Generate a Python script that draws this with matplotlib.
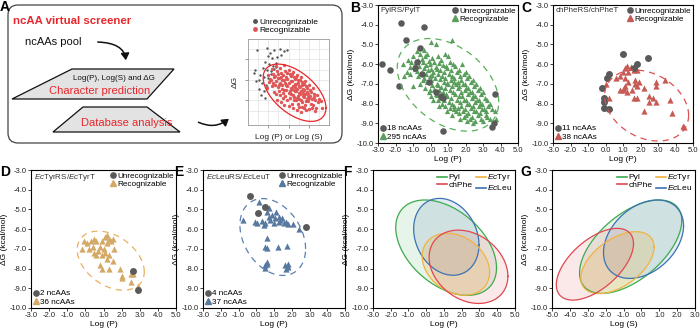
import numpy as np
import matplotlib.pyplot as plt
from matplotlib.patches import FancyBboxPatch, Polygon, FancyArrowPatch
from matplotlib.lines import Line2D
from matplotlib.ticker import FormatStrFormatter

plt.rcParams['font.family'] = ['Liberation Sans', 'DejaVu Sans']
plt.rcParams['mathtext.fontset'] = 'custom'
plt.rcParams['mathtext.rm'] = 'Liberation Sans'
plt.rcParams['mathtext.it'] = 'Liberation Sans:italic'
plt.rcParams['axes.unicode_minus'] = False

# ---- data ----
x_ticks_p = [-3, -2, -1, 0, 1, 2, 3, 4, 5]
x_ticks_s = [-5, -4, -3, -2, -1, 0, 1, 2, 3]
y_ticks = [-10, -9, -8, -7, -6, -5, -4, -3]

pyl_unrec = [(-1.7, -3.9), (-0.4, -4.1), (-1.4, -4.8), (-0.6, -5.2), (-2.8, -6.0),
             (-2.3, -6.3), (-0.8, -5.9), (-0.9, -6.2), (-0.5, -6.5), (-1.8, -7.1),
             (-0.1, -6.9), (0.3, -7.4), (0.6, -7.6), (0.7, -7.7), (0.7, -9.4),
             (3.7, -7.5), (3.6, -9.0), (3.5, -9.2)]
pyl_rec = [
    (-1.6, -6.0), (-1.5, -6.6),
    (-1.3, -5.8), (-1.2, -6.15), (-1.35, -6.4),
    (-1.0, -5.6), (-1.1, -5.9), (-0.9, -6.25), (-1.15, -6.5), (-1.0, -7.1),
    (-0.8, -5.35), (-0.7, -5.8), (-0.9, -6.0), (-0.75, -6.35), (-0.7, -6.6),
    (-0.6, -5.5), (-0.5, -5.75), (-0.65, -6.1), (-0.55, -6.45), (-0.45, -6.8), (-0.6, -7.0),
    (-0.4, -5.3), (-0.3, -5.6), (-0.45, -5.9), (-0.35, -6.2), (-0.25, -6.5), (-0.4, -6.7), (-0.3, -7.2),
    (-0.2, -5.5), (-0.1, -5.85), (-0.25, -6.05), (-0.15, -6.3), (-0.05, -6.6), (-0.2, -6.9), (-0.1, -7.4),
    (0.0, -4.9), (0.1, -5.7), (-0.05, -6.0), (0.05, -6.25), (0.1, -6.55), (0.0, -6.8), (0.1, -7.05), (-0.05, -7.3), (0.0, -7.6),
    (0.3, -5.0), (0.2, -5.9), (0.3, -6.15), (0.15, -6.4), (0.25, -6.7), (0.35, -7.0), (0.2, -7.25), (0.3, -7.5), (0.15, -7.8),
    (0.4, -5.6), (0.5, -5.95), (0.35, -6.25), (0.45, -6.5), (0.55, -6.75), (0.4, -7.05), (0.5, -7.3), (0.35, -7.55), (0.45, -7.8), (0.5, -8.1),
    (0.6, -5.8), (0.7, -6.05), (0.55, -6.3), (0.65, -6.6), (0.75, -6.9), (0.6, -7.15), (0.7, -7.4), (0.55, -7.7), (0.65, -8.0),
    (0.8, -5.5), (0.9, -6.1), (0.75, -6.4), (0.85, -6.7), (0.95, -6.95), (0.8, -7.2), (0.9, -7.5), (0.75, -7.8), (0.85, -8.1), (0.95, -8.4),
    (1.0, -5.6), (1.1, -5.9), (0.95, -6.2), (1.05, -6.5), (1.15, -6.8), (1.0, -7.0), (1.1, -7.3), (0.95, -7.6), (1.05, -7.9), (1.1, -8.2),
    (1.2, -4.8), (1.3, -6.0), (1.15, -6.3), (1.25, -6.6), (1.35, -6.9), (1.2, -7.1), (1.3, -7.4), (1.15, -7.7), (1.25, -8.0), (1.35, -8.3), (1.2, -8.6),
    (1.4, -6.1), (1.5, -6.4), (1.35, -6.7), (1.45, -7.0), (1.55, -7.2), (1.4, -7.5), (1.5, -7.8), (1.35, -8.1), (1.45, -8.4),
    (1.6, -6.3), (1.7, -6.6), (1.55, -6.9), (1.65, -7.1), (1.75, -7.4), (1.6, -7.6), (1.7, -7.9), (1.55, -8.2), (1.65, -8.5), (1.7, -8.8),
    (1.8, -6.0), (1.9, -6.5), (1.75, -6.8), (1.85, -7.0), (1.95, -7.3), (1.8, -7.6), (1.9, -7.8), (1.75, -8.1), (1.85, -8.4), (1.9, -8.7),
    (2.0, -6.4), (2.1, -6.7), (1.95, -7.0), (2.05, -7.2), (2.15, -7.5), (2.0, -7.8), (2.1, -8.0), (1.95, -8.3), (2.05, -8.6), (2.1, -8.9),
    (2.2, -6.6), (2.3, -6.9), (2.15, -7.2), (2.25, -7.4), (2.35, -7.7), (2.2, -8.0), (2.3, -8.2), (2.15, -8.5), (2.25, -8.8),
    (2.4, -6.8), (2.5, -7.1), (2.35, -7.4), (2.45, -7.6), (2.55, -7.9), (2.4, -8.1), (2.5, -8.4), (2.35, -8.7), (2.45, -9.0),
    (2.6, -7.0), (2.7, -7.3), (2.55, -7.6), (2.65, -7.8), (2.75, -8.1), (2.6, -8.4), (2.7, -8.6), (2.55, -8.9),
    (2.8, -7.2), (2.9, -7.5), (2.75, -7.8), (2.85, -8.0), (2.95, -8.3), (2.8, -8.5), (2.9, -8.8),
    (3.0, -7.4), (3.1, -7.7), (2.95, -8.0), (3.05, -8.3), (3.15, -8.6), (3.0, -8.9),
    (3.2, -7.8), (3.3, -8.1), (3.15, -8.4), (3.25, -8.7),
    (3.4, -8.0), (3.5, -8.3), (3.4, -8.8),
    (3.7, -8.4), (3.75, -8.8),
]

phe_unrec = [(1.0, -5.5), (2.4, -5.7), (1.8, -6.0), (1.6, -6.2), (0.2, -6.5), (0.1, -6.7),
             (-0.2, -7.2), (-0.1, -7.7), (-0.1, -7.9), (-0.1, -8.2), (0.2, -8.3)]
phe_rec = [(1.1, -6.2), (1.2, -6.1), (1.45, -6.15), (1.6, -6.3), (1.8, -6.3), (1.0, -6.4), (1.3, -6.4),
           (0.6, -6.7), (0.85, -6.6), (1.1, -6.7), (1.7, -6.8), (1.9, -6.9), (3.4, -6.8), (2.9, -6.9), (1.3, -6.9),
           (0.0, -7.0), (1.0, -7.3), (0.85, -7.3), (1.1, -7.1), (1.2, -7.4), (1.5, -7.3), (1.8, -7.1),
           (2.2, -7.2), (2.9, -7.1), (1.7, -7.0), (1.05, -7.2),
           (0.2, -7.7), (1.6, -7.7), (1.8, -7.7), (2.5, -7.6), (2.7, -7.7), (2.5, -7.9), (2.9, -7.9), (3.7, -7.8),
           (2.2, -8.4), (3.8, -8.5), (4.5, -9.2), (4.45, -9.15)]

tyr_unrec = [(2.6, -8.1), (2.9, -9.1)]
tyr_rec = [(-0.2, -7.0), (-0.1, -6.6), (0.1, -6.7), (0.3, -6.6), (0.5, -6.5), (0.6, -6.6), (0.9, -6.6),
           (1.1, -6.4), (1.2, -6.3), (1.3, -6.5), (1.4, -6.6), (1.2, -6.7), (1.5, -6.5), (0.2, -7.0),
           (0.4, -6.9), (0.5, -7.2), (0.7, -7.1), (0.8, -6.9), (1.0, -7.0), (1.1, -7.2), (0.6, -7.3),
           (0.9, -7.3), (1.3, -7.3), (1.6, -7.0), (1.2, -7.5), (0.8, -7.8), (0.9, -8.0), (1.3, -8.0),
           (1.9, -8.0), (2.0, -8.4), (2.0, -8.5), (2.5, -8.3), (2.6, -8.3), (2.5, -8.7), (2.9, -8.9), (1.5, -7.6)]

leu_unrec = [(-0.35, -4.3), (0.5, -4.9), (0.1, -5.2), (2.8, -5.9)]
leu_rec = [(0.15, -4.61), (-0.74, -5.54), (-0.07, -5.62), (0.33, -5.59), (0.48, -5.71), (0.61, -5.11),
           (0.70, -5.37), (0.80, -5.54), (0.89, -5.28), (0.98, -5.71), (1.11, -5.11), (1.26, -5.37),
           (1.35, -5.54), (1.44, -5.45), (1.54, -5.71), (1.67, -5.66), (1.81, -5.76), (2.09, -5.76),
           (2.43, -5.99), (1.26, -5.62), (0.74, -4.95), (0.61, -6.47), (0.52, -6.89), (0.61, -6.98),
           (1.20, -6.89), (1.76, -6.86), (0.61, -7.65), (0.61, -7.79), (0.52, -7.99), (0.52, -7.82),
           (1.63, -7.82), (1.81, -7.91), (1.78, -7.79), (1.67, -8.03), (0.43, -5.79), (0.06, -5.71),
           (1.04, -5.45)]

counts_B = [18, 295]
counts_C = [11, 38]
counts_D = [2, 36]
counts_E = [4, 37]

# ellipses: centre x, centre y, half width, half height, phase (deg)
ell_B = [1.0, -7.05, 2.9, 2.35, 112]
ell_C = [2.35, -8.1, 2.4, 1.8, 106]
ell_D = [1.4, -7.6, 1.85, 1.5, 112]
ell_E = [0.93, -6.4, 1.85, 1.95, 108]
ell_F = {'Pyl': [1.12, -6.94, 2.84, 2.42, 115], 'chPhe': [2.38, -7.91, 2.22, 1.86, 105],
         'EcTyr': [1.67, -7.78, 1.9, 1.57, 105], 'EcLeu': [1.13, -6.39, 1.84, 1.95, 102]}
ell_G = {'Pyl': [-0.6, -6.89, 2.86, 2.37, 56], 'chPhe': [-2.6, -7.78, 2.16, 1.82, 55],
         'EcTyr': [-1.34, -7.7, 2.05, 1.57, 60], 'EcLeu': [0.12, -6.51, 2.24, 1.99, 70]}

# schematic scatter in panel A (arbitrary units)
mini_unrec = [(0.9, 6.9), (1.9, 7.1), (2.2, 6.6), (2.6, 6.9), (3.2, 7.0), (3.6, 6.8), (2.0, 6.3),
              (2.4, 6.1), (2.9, 6.2), (3.3, 6.4), (1.7, 5.8), (2.1, 5.6), (2.5, 5.4), (2.8, 5.7),
              (1.5, 5.2), (1.9, 5.0), (2.3, 4.9), (2.6, 5.1), (0.6, 4.7), (1.2, 4.5), (1.6, 4.3),
              (2.0, 4.2), (0.8, 3.9), (1.4, 3.7), (1.8, 3.5), (1.1, 3.1), (1.6, 2.9), (1.9, 3.3),
              (1.3, 2.5), (1.7, 2.2), (2.3, 4.6), (2.8, 5.3), (3.9, 6.9), (1.1, 4.0), (0.7, 5.0)]
mini_rec = [
    (2.0, 4.5), (2.1, 3.8), (1.9, 3.2), (2.2, 4.1),
    (2.4, 5.1), (2.5, 4.6), (2.3, 4.0), (2.4, 3.4), (2.6, 2.8), (2.5, 3.7),
    (2.8, 5.4), (2.9, 4.9), (2.7, 4.4), (2.8, 3.9), (3.0, 3.3), (2.8, 2.6), (2.9, 2.0), (3.0, 4.2),
    (3.2, 5.2), (3.3, 4.7), (3.1, 4.2), (3.2, 3.7), (3.4, 3.1), (3.2, 2.5), (3.3, 1.8), (3.4, 4.0), (3.1, 2.9),
    (3.6, 5.5), (3.7, 4.9), (3.5, 4.5), (3.6, 4.0), (3.8, 3.5), (3.6, 3.0), (3.7, 2.4), (3.6, 1.6), (3.8, 4.3), (3.5, 2.7),
    (4.0, 5.0), (4.1, 4.6), (3.9, 4.1), (4.0, 3.7), (4.2, 3.2), (4.0, 2.7), (4.1, 2.2), (4.0, 1.5), (4.2, 3.9), (3.9, 3.4), (4.1, 2.9),
    (4.4, 4.8), (4.5, 4.3), (4.3, 3.9), (4.4, 3.4), (4.6, 2.9), (4.4, 2.5), (4.5, 2.0), (4.4, 1.3), (4.6, 3.6), (4.3, 3.1), (4.5, 2.3), (4.6, 4.1),
    (4.8, 4.5), (4.9, 4.0), (4.7, 3.6), (4.8, 3.1), (5.0, 2.7), (4.8, 2.2), (4.9, 1.7), (4.8, 1.1), (5.0, 3.4), (4.7, 2.9), (4.9, 2.4),
    (5.2, 4.3), (5.3, 3.8), (5.1, 3.3), (5.2, 2.9), (5.4, 2.4), (5.2, 2.0), (5.3, 1.4), (5.2, 0.9), (5.4, 3.1), (5.1, 2.6), (5.3, 1.8),
    (5.6, 3.9), (5.7, 3.4), (5.5, 3.0), (5.6, 2.6), (5.8, 2.1), (5.6, 1.6), (5.7, 1.1), (5.8, 2.8), (5.5, 2.3), (5.7, 1.9),
    (6.0, 3.5), (6.1, 3.0), (5.9, 2.6), (6.0, 2.2), (6.2, 1.7), (6.0, 1.2), (6.1, 2.4), (5.9, 1.9),
    (6.4, 3.2), (6.5, 2.6), (6.3, 2.1), (6.4, 1.6), (6.6, 1.0), (6.5, 2.3),
    (6.8, 2.5), (6.9, 1.8), (6.7, 1.3), (7.0, 2.1),
    (7.2, 1.9), (7.3, 1.3),
    (2.6, 4.3), (2.7, 3.5), (3.0, 4.6), (3.3, 4.3), (3.4, 3.5), (3.5, 2.2), (3.8, 3.0), (3.9, 2.0),
    (4.2, 4.4), (4.2, 2.6), (4.3, 1.7), (4.6, 3.3), (4.7, 2.0), (4.9, 3.7), (5.0, 2.1), (5.0, 1.4),
    (5.3, 3.5), (5.4, 2.7), (5.5, 1.3), (5.8, 3.2), (5.9, 2.3), (6.2, 2.8), (6.3, 1.3), (6.6, 2.0),
    (3.9, 4.7), (4.3, 4.6), (4.7, 4.3), (5.1, 4.0), (5.5, 3.6), (3.1, 3.5), (3.7, 3.7), (4.5, 3.0),
]
ell_mini = [4.6, 2.75, 3.1, 2.8, 122]

GRAY = '#5a5a5a'
col_line = {'Pyl': '#3daa4e', 'chPhe': '#e0474f', 'EcTyr': '#f2b240', 'EcLeu': '#3d72b3'}
leg_label = {'Pyl': 'Pyl', 'chPhe': 'chPhe', 'EcTyr': r'$\it{Ec}$Tyr', 'EcLeu': r'$\it{Ec}$Leu'}


def ellipse_pts(p):
    cx, cy, a, b, phi = p
    t = np.linspace(0, 2 * np.pi, 240)
    return cx + a * np.cos(t), cy + b * np.cos(t - np.radians(phi))


def px_rect(l, t, r, b):
    return [l / 700, 1 - b / 331, (r - l) / 700, (b - t) / 331]


def style_axes(ax, xt, xlabel):
    ax.set_xlim(xt[0], xt[-1])
    ax.set_ylim(-10, -3)
    ax.set_xticks(xt)
    ax.set_yticks(y_ticks)
    ax.xaxis.set_major_formatter(FormatStrFormatter('%.1f'))
    ax.yaxis.set_major_formatter(FormatStrFormatter('%.1f'))
    ax.tick_params(labelsize=5.5, length=2, width=0.6, pad=1, colors='#222')
    ax.set_xlabel(xlabel, fontsize=6, labelpad=1)
    ax.set_ylabel('ΔG (kcal/mol)', fontsize=6, labelpad=1)
    for s in ax.spines.values():
        s.set_linewidth(0.8)


def scatter_panel(ax, title, unrec, rec, tri_col, ell, ell_col, counts, s_c, s_t):
    ex, ey = ellipse_pts(ell)
    ax.plot(ex, ey, ls=(0, (5, 4)), color=ell_col, lw=0.9)
    rx, ry = zip(*rec)
    ux, uy = zip(*unrec)
    ax.scatter(rx, ry, marker='^', s=s_t, c=tri_col, lw=0)
    ax.scatter(ux, uy, marker='o', s=s_c, c=GRAY, lw=0)
    ax.text(0.02, 0.985, title, transform=ax.transAxes, va='top', ha='left',
            fontsize=5.8, color='#333')
    h1 = Line2D([], [], marker='o', ls='none', color=GRAY, ms=3.8)
    h2 = Line2D([], [], marker='^', ls='none', color=tri_col, ms=3.8)
    kw = dict(frameon=False, fontsize=5.9, handletextpad=0.15, labelspacing=0.05,
              handlelength=0.7, borderpad=0.15, borderaxespad=0.15)
    leg = ax.legend([h1, h2], ['Unrecognizable', 'Recognizable'], loc='upper right', **kw)
    ax.add_artist(leg)
    ax.legend([h1, h2], [f'{counts[0]} ncAAs', f'{counts[1]} ncAAs'], loc='lower left', **kw)
    style_axes(ax, x_ticks_p, 'Log (P)')


def ellipse_panel(ax, ells, xt, xlabel):
    for key, alpha in [('Pyl', 0.12), ('EcLeu', 0.14), ('EcTyr', 0.22), ('chPhe', 0.12)]:
        ex, ey = ellipse_pts(ells[key])
        ax.fill(ex, ey, color=col_line[key], alpha=alpha, lw=0)
    for key in ['Pyl', 'EcLeu', 'EcTyr', 'chPhe']:
        ex, ey = ellipse_pts(ells[key])
        ax.plot(ex, ey, color=col_line[key], lw=0.9)
    keys = ['Pyl', 'chPhe', 'EcTyr', 'EcLeu']
    hs = [Line2D([], [], color=col_line[k], lw=1.2) for k in keys]
    ax.legend(hs, [leg_label[k] for k in keys], loc='upper right', ncol=2, frameon=False,
              fontsize=6, handlelength=1.2, handletextpad=0.2, columnspacing=0.4,
              labelspacing=0.0, borderpad=0.1, borderaxespad=0.2)
    style_axes(ax, xt, xlabel)


fig = plt.figure(figsize=(7, 3.31), dpi=100)

# ---- panel A schematic ----
bg = fig.add_axes([0, 0, 1, 1])
bg.set_xlim(0, 700)
bg.set_ylim(331, 0)
bg.axis('off')
bg.add_patch(FancyBboxPatch((8, 5), 334, 138, boxstyle='round,pad=0,rounding_size=10',
                            fc='white', ec='#444', lw=0.9))
bg.text(13, 21, 'ncAA virtual screener', color='#e8262b', fontsize=8.2, fontweight='bold',
        va='center')
bg.text(25, 42, 'ncAAs pool', fontsize=8, va='center', color='#111')
bg.add_patch(Polygon([(72, 69), (174, 69), (147, 99), (12, 99)], closed=True,
                     fc='#e3e3e3', ec='#111', lw=0.9))
bg.add_patch(Polygon([(83, 107), (147, 107), (180, 132), (53, 132)], closed=True,
                     fc='#e3e3e3', ec='#111', lw=0.9))
bg.text(114, 78, 'Log(P), Log(S) and ΔG', fontsize=5.8, ha='center', va='center', color='#111')
bg.text(100, 91, 'Character prediction', fontsize=8, ha='center', va='center', color='#e8262b')
bg.text(127, 123, 'Database analysis', fontsize=8, ha='center', va='center', color='#e8262b')
bg.add_patch(FancyArrowPatch((95, 42), (126, 63), connectionstyle='angle3,angleA=0,angleB=90',
                             arrowstyle='-|>,head_length=4,head_width=2.5', color='#111', lw=1.1))
bg.add_patch(FancyArrowPatch((196, 121), (231, 117), connectionstyle='arc3,rad=0.35',
                             arrowstyle='-|>,head_length=4,head_width=2.5', color='#111', lw=1.1))

for letter, x, y in [('A', 0, 0), ('B', 350, 1), ('C', 521, 1), ('D', 0, 165),
                     ('E', 174, 165), ('F', 343, 165), ('G', 520, 165)]:
    bg.text(x, y, letter, fontsize=10, fontweight='bold', va='top', ha='left')

mini = fig.add_axes(px_rect(248, 39, 329, 125))
mx, my = ellipse_pts(ell_mini)
mini.plot(mx, my, color='#e8262b', lw=0.9, zorder=3)
ax_, ay_ = zip(*mini_unrec)
bx_, by_ = zip(*mini_rec)
mini.scatter(ax_, ay_, s=3, c='#555', lw=0, zorder=2)
mini.scatter(bx_, by_, s=6, c='#e05555', lw=0, zorder=2)
mini.set_xlim(0, 8)
mini.set_ylim(-0.4, 8)
mini.set_xticks([2, 4, 6])
mini.set_yticks([2, 4, 6])
mini.set_xticks([1, 3, 5, 7], minor=True)
mini.set_yticks([1, 3, 5, 7], minor=True)
mini.grid(True, which='both', color='#e2e2e2', lw=0.5)
mini.set_axisbelow(True)
mini.tick_params(which='major', length=2, width=0.5, colors='#777', labelbottom=False, labelleft=False)
mini.tick_params(which='minor', length=0)
for s in mini.spines.values():
    s.set_color('#999')
    s.set_linewidth(0.6)
mini.set_xlabel('Log (P) or Log (S)', fontsize=6, labelpad=3, color='#222')
mini.set_ylabel('ΔG', fontsize=6, labelpad=3, color='#222')
mh = [Line2D([], [], marker='o', ls='none', color='#555', ms=2.5),
      Line2D([], [], marker='o', ls='none', color='#e05555', ms=2.5)]
mini.legend(mh, ['Unrecognizable', 'Recognizable'], loc='lower left', bbox_to_anchor=(-0.02, 1.0),
            frameon=False, fontsize=6, handletextpad=0.2, labelspacing=0.05, handlelength=0.8,
            borderpad=0.1)

# ---- scatter panels ----
axB = fig.add_axes(px_rect(378, 5, 518, 143))
scatter_panel(axB, 'PylRS/PylT', pyl_unrec, pyl_rec, '#5a9e5c', ell_B, '#5aaf5a', counts_B, 22, 14)

axC = fig.add_axes(px_rect(553, 5, 693, 143))
scatter_panel(axC, 'chPheRS/chPheT', phe_unrec, phe_rec, '#c65a55', ell_C, '#e05050', counts_C, 25, 20)

axD = fig.add_axes(px_rect(31, 170, 176, 308))
scatter_panel(axD, r'$\it{Ec}$TyrRS/$\it{Ec}$TyrT', tyr_unrec, tyr_rec, '#d4a865', ell_D, '#eab060',
              counts_D, 25, 20)

axE = fig.add_axes(px_rect(203, 170, 345, 308))
scatter_panel(axE, r'$\it{Ec}$LeuRS/$\it{Ec}$LeuT', leu_unrec, leu_rec, '#5878a0', ell_E, '#5a80b0',
              counts_E, 25, 20)

axF = fig.add_axes(px_rect(373, 170, 515, 308))
ellipse_panel(axF, ell_F, x_ticks_p, 'Log (P)')

axG = fig.add_axes(px_rect(552, 170, 695, 308))
ellipse_panel(axG, ell_G, x_ticks_s, 'Log (S)')

fig.savefig('out.png', dpi=100)
